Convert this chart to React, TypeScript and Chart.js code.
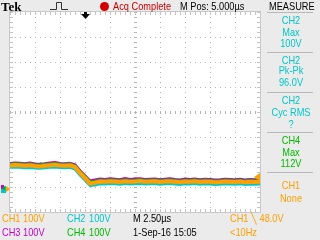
import React, { useEffect, useRef } from "react";
import { Chart, registerables } from "chart.js";

Chart.register(...registerables);

// time axis (µs), 2.50 µs/div, 10 divisions
const times = [
  0, 0.5, 1, 1.5, 2, 2.5, 3, 3.5, 4, 4.5, 5, 5.5, 6, 6.5, 7, 7.5, 8, 8.5, 9, 9.5,
  10, 10.5, 11, 11.5, 12, 12.5, 13, 13.5, 14, 14.5, 15, 15.5, 16, 16.5, 17, 17.5,
  18, 18.5, 19, 19.5, 20, 20.5, 21, 21.5, 22, 22.5, 23, 23.5, 24, 24.5, 25,
];

// volts (100 V/div)
const ch1 = [
  94, 96, 95, 93, 95, 92, 90, 93, 95, 97, 94, 93, 95, 88, 64, 44, 22, 25, 30, 29,
  31, 30, 28, 31, 29, 30, 32, 29, 30, 31, 28, 30, 31, 29, 27, 30, 29, 31, 28, 30,
  29, 27, 28, 30, 29, 28, 30, 27, 29, 28, 29,
];
const ch2 = [
  87, 88, 87, 85, 86, 84, 83, 85, 87, 88, 86, 85, 87, 80, 56, 36, 14, 16, 21, 20,
  22, 21, 19, 22, 20, 21, 22, 20, 21, 22, 19, 21, 22, 20, 18, 21, 20, 22, 19, 21,
  20, 18, 19, 21, 20, 19, 21, 18, 20, 19, 20,
];
const ch3 = [
  102, 104, 103, 101, 104, 100, 99, 101, 104, 106, 102, 101, 103, 97, 73, 53, 32, 36, 40, 38,
  41, 39, 37, 42, 38, 40, 41, 38, 39, 40, 37, 39, 41, 38, 36, 40, 38, 40, 37, 39,
  38, 36, 37, 39, 38, 37, 39, 36, 38, 37, 38,
];
const ch4 = [
  99, 101, 100, 98, 100, 97, 96, 99, 100, 102, 99, 98, 100, 93, 70, 50, 28, 31, 35, 34,
  36, 35, 33, 36, 34, 35, 37, 34, 35, 36, 33, 35, 36, 34, 32, 35, 34, 36, 33, 35,
  34, 32, 33, 35, 34, 33, 35, 32, 34, 33, 34,
];

const triggerLevel = 48; // V
const triggerTime = 7.5; // µs
const yMin = -92;
const yMax = 708;

const ORANGE = "#ffa000";
const CYAN = "#00c8c8";
const MAGENTA = "#c800c8";
const GREEN = "#00bb00";
const RED = "#cc0000";

const FONT = '"Liberation Sans", Arial, sans-serif';

const gridPlugin = {
  id: "scopeGrid",
  beforeDatasetsDraw(chart: any) {
    const { ctx, chartArea } = chart;
    const { left, top, right, bottom } = chartArea;
    const w = right - left;
    const h = bottom - top;
    ctx.save();
    ctx.fillStyle = "#ffffff";
    ctx.fillRect(left, top, w, h);
    ctx.fillStyle = "#b4b4b4";
    const dx = w / 10;
    const dy = h / 8;
    for (let i = 1; i < 10; i++) {
      const x = Math.round(left + i * dx);
      for (let y = top; y <= bottom; y += 5) {
        if (i === 5) ctx.fillRect(x - 1, y, 3, 1);
        else ctx.fillRect(x, y, 1, 1);
      }
    }
    for (let j = 1; j < 8; j++) {
      const y = Math.round(top + j * dy);
      for (let x = left; x <= right; x += 5) {
        if (j === 4) ctx.fillRect(x, y - 1, 1, 3);
        else ctx.fillRect(x, y, 1, 1);
      }
    }
    // border ticks
    ctx.fillStyle = "#c4c4c4";
    for (let y = top; y <= bottom; y += 5) {
      ctx.fillRect(left, y, 3, 1);
      ctx.fillRect(right - 3, y, 3, 1);
    }
    for (let x = left; x <= right; x += 5) {
      ctx.fillRect(x, top, 1, 3);
      ctx.fillRect(x, bottom - 3, 1, 3);
    }
    ctx.strokeStyle = "#c8c8c8";
    ctx.lineWidth = 1;
    ctx.strokeRect(left - 0.5, top - 0.5, w + 1, h + 1);
    ctx.restore();
  },
  afterDraw(chart: any) {
    const { ctx, chartArea, scales } = chart;
    const { top, right } = chartArea;
    ctx.save();
    // ground marker (left)
    const g = Math.round(scales.y.getPixelForValue(0));
    ctx.fillStyle = CYAN;
    ctx.fillRect(1, g - 3, 5, 7);
    ctx.fillStyle = MAGENTA;
    ctx.fillRect(1, g - 4, 3, 4);
    ctx.fillStyle = GREEN;
    ctx.fillRect(3, g - 2, 2, 3);
    ctx.fillStyle = ORANGE;
    ctx.beginPath();
    ctx.moveTo(6, g - 3);
    ctx.lineTo(10, g);
    ctx.lineTo(6, g + 3);
    ctx.closePath();
    ctx.fill();
    // trigger level marker (right)
    const t = Math.round(scales.y.getPixelForValue(triggerLevel));
    ctx.fillStyle = ORANGE;
    ctx.beginPath();
    ctx.moveTo(right - 6, t);
    ctx.lineTo(right, t - 4);
    ctx.lineTo(right, t + 4);
    ctx.closePath();
    ctx.fill();
    // trigger position marker (top)
    const tx = Math.round(scales.x.getPixelForValue(triggerTime)) + 0.5;
    ctx.fillStyle = "#000000";
    ctx.fillRect(tx - 1.5, top, 3, 3);
    ctx.beginPath();
    ctx.moveTo(tx - 4.5, top + 2);
    ctx.lineTo(tx + 4.5, top + 2);
    ctx.lineTo(tx, top + 7);
    ctx.closePath();
    ctx.fill();
    // pulse icon
    ctx.strokeStyle = "#333333";
    ctx.lineWidth = 1;
    ctx.beginPath();
    ctx.moveTo(50, 9.5);
    ctx.lineTo(56.5, 9.5);
    ctx.lineTo(56.5, 2.5);
    ctx.lineTo(61.5, 2.5);
    ctx.lineTo(61.5, 9.5);
    ctx.lineTo(68, 9.5);
    ctx.stroke();
    ctx.restore();
  },
};

type TProps = {
  x: number;
  y: number;
  color?: string;
  size?: number;
  w?: number;
  children: React.ReactNode;
  family?: string;
  bold?: boolean;
  sx?: number;
};

function T({ x, y, color = "#000", size = 11, w, children, family, bold, sx = 0.84 }: TProps) {
  return (
    <span
      style={{
        position: "absolute",
        left: x,
        top: y,
        width: w,
        textAlign: w ? "center" : "left",
        color,
        fontSize: size,
        lineHeight: `${size}px`,
        fontFamily: family || FONT,
        fontWeight: bold ? 700 : 400,
        whiteSpace: "nowrap",
        transform: `scaleX(${sx})`,
        transformOrigin: w ? "center" : "left",
      }}
    >
      {children}
    </span>
  );
}

function Sep({ y }: { y: number }) {
  return (
    <div
      style={{ position: "absolute", left: 267, top: y, width: 46, height: 1, background: "#b8b8b8" }}
    />
  );
}

export default function App() {
  const ref = useRef<HTMLCanvasElement>(null);
  useEffect(() => {
    if (!ref.current) return;
    const mk = (vals: number[], color: string, width: number) => ({
      data: times.map((t, i) => ({ x: t, y: vals[i] })),
      borderColor: color,
      backgroundColor: color,
      borderWidth: width,
      pointRadius: 0,
      tension: 0,
      fill: false,
    });
    const chart = new Chart(ref.current, {
      type: "line",
      data: {
        datasets: [
          { label: "CH1", ...mk(ch1, ORANGE, 4) },
          { label: "CH4", ...mk(ch4, GREEN, 3) },
          { label: "CH3", ...mk(ch3, MAGENTA, 3) },
          { label: "CH2", ...mk(ch2, CYAN, 3) },
        ],
      },
      options: {
        responsive: false,
        animation: false,
        events: [],
        layout: { padding: { left: 10, top: 12, right: 60, bottom: 28 } },
        scales: {
          x: { type: "linear", min: 0, max: 25, display: false },
          y: { type: "linear", min: yMin, max: yMax, display: false },
        },
        plugins: { legend: { display: false }, tooltip: { enabled: false }, title: { display: false } },
      },
      plugins: [gridPlugin],
    } as any);
    return () => chart.destroy();
  }, []);

  return (
    <div
      style={{
        position: "fixed",
        left: 0,
        top: 0,
        width: 320,
        height: 240,
        background: "#ebebeb",
        overflow: "hidden",
      }}
    >
      <canvas ref={ref} width={320} height={240} style={{ position: "absolute", left: 0, top: 0 }} />
      {/* header */}
      <T x={1} y={0} size={13} sx={1} family='"Liberation Serif", "DejaVu Serif", serif' bold>
        Tek
      </T>
      <div
        style={{
          position: "absolute",
          left: 100,
          top: 2,
          width: 9,
          height: 9,
          borderRadius: "50%",
          background: "#d40000",
        }}
      />
      <T x={113} y={1} color={RED}>Acq Complete</T>
      <T x={180} y={1}>M Pos: 5.000µs</T>
      <T x={269} y={1}>MEASURE</T>
      <div style={{ position: "absolute", left: 267, top: 12, width: 46, height: 1, background: "#b8b8b8" }} />
      {/* measure panel */}
      <T x={266} y={15} w={50} color={CYAN}>CH2</T>
      <T x={266} y={27} w={50} color={CYAN}>Max</T>
      <T x={266} y={38} w={50} color={CYAN}>100V</T>
      <Sep y={52} />
      <T x={266} y={55} w={50} color={CYAN}>CH2</T>
      <T x={266} y={65} w={50} color={CYAN}>Pk-Pk</T>
      <T x={266} y={77} w={50} color={CYAN}>96.0V</T>
      <Sep y={92} />
      <T x={266} y={95} w={50} color={CYAN}>CH2</T>
      <T x={266} y={107} w={50} color={CYAN}>Cyc RMS</T>
      <T x={266} y={119} w={50} color={CYAN}>?</T>
      <Sep y={132} />
      <T x={266} y={135} w={50} color={GREEN}>CH4</T>
      <T x={266} y={147} w={50} color={GREEN}>Max</T>
      <T x={266} y={158} w={50} color={GREEN}>112V</T>
      <Sep y={172} />
      <T x={266} y={180} w={50} color={ORANGE}>CH1</T>
      <T x={266} y={193} w={50} color={ORANGE}>None</T>
      {/* footer */}
      <T x={2} y={213} color={ORANGE}>CH1</T>
      <T x={23} y={213} color={ORANGE}>100V</T>
      <T x={67} y={213} color={CYAN}>CH2</T>
      <T x={89} y={213} color={CYAN}>100V</T>
      <T x={133} y={213}>M 2.50µs</T>
      <T x={230} y={213} color={ORANGE}>CH1 ╲ 48.0V</T>
      <T x={2} y={227} color={MAGENTA}>CH3</T>
      <T x={23} y={227} color={MAGENTA}>100V</T>
      <T x={67} y={227} color={GREEN}>CH4</T>
      <T x={89} y={227} color={GREEN}>100V</T>
      <T x={133} y={227}>1-Sep-16 15:05</T>
      <T x={230} y={227} color={ORANGE}>&lt;10Hz</T>
    </div>
  );
}
